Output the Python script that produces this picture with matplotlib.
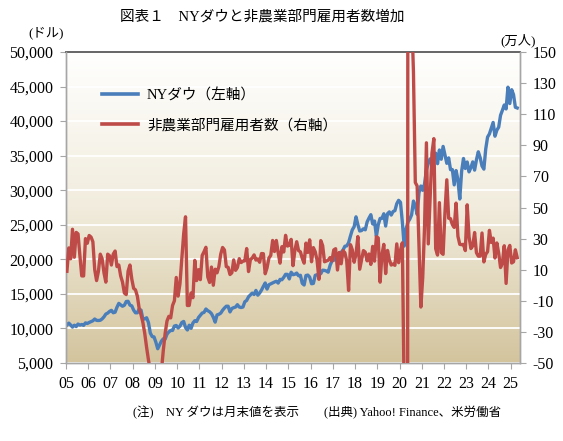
import numpy as np
import matplotlib
matplotlib.use("Agg")
import matplotlib.pyplot as plt
from matplotlib.lines import Line2D

# month-end Dow close, Jan 2005 - Apr 2025 (dollars)
dow = [
    10490, 10766, 10504, 10193, 10467, 10275, 10641, 10482, 10569, 10440, 10806, 10718,
    10865, 10993, 11109, 11367, 11168, 11150, 11186, 11381, 11679, 12081, 12222, 12463,
    12622, 12269, 12354, 13063, 13628, 13409, 13212, 13358, 13896, 13930, 13372, 13265,
    12650, 12266, 12263, 12820, 12638, 11350, 11378, 11544, 10851, 9325, 8829, 8776,
    8001, 7063, 7609, 8168, 8500, 8447, 9172, 9496, 9712, 9713, 10345, 10428,
    10067, 10325, 10857, 11009, 10137, 9774, 10466, 10015, 10788, 11118, 11006, 11578,
    11892, 12226, 12320, 12811, 12570, 12414, 12143, 11614, 10913, 11955, 12046, 12218,
    12633, 12952, 13212, 13214, 12393, 12880, 13009, 13091, 13437, 13096, 13026, 13104,
    13861, 14054, 14579, 14840, 15116, 14910, 15500, 14810, 15130, 15546, 16086, 16577,
    15699, 16322, 16458, 16581, 16717, 16827, 16563, 17098, 17043, 17391, 17828, 17823,
    17165, 18133, 17776, 17841, 18011, 17620, 17690, 16528, 16285, 17664, 17720, 17425,
    16466, 16517, 17685, 17774, 17787, 17930, 18432, 18401, 18308, 18142, 19124, 19763,
    19864, 20812, 20663, 20941, 21009, 21350, 21891, 21948, 22405, 23377, 24272, 24719,
    26149, 25029, 24103, 24163, 24416, 24271, 25415, 25965, 26458, 25116, 25538, 23327,
    24999, 25916, 25929, 26593, 24815, 26600, 26864, 26403, 26917, 27046, 28051, 28538,
    28256, 25409, 21917, 24346, 25383, 25813, 26428, 28430, 27782, 26502, 29639, 30606,
    29983, 30932, 32982, 33875, 34529, 34503, 34935, 35361, 33844, 35820, 34484, 36338,
    35132, 33893, 34678, 32977, 32990, 30775, 32845, 31510, 28726, 32733, 34590, 33147,
    34086, 32657, 33274, 34098, 32908, 34408, 35560, 34722, 33508, 33053, 35951, 37690,
    38150, 38996, 39807, 37816, 38686, 39119, 40843, 41563, 42330, 41763, 44911, 42544,
    44545, 43841, 42002, 41900,
]

# nonfarm payroll change, same months (10k persons)
nfp = [
    9, 24, 17, 36, 18, 34, 33, 19, 6, 6, 30, 27,
    32, 31, 28, 10, 3, 9, 20, 17, 8, 2, 20, 19,
    13, 20, 22, 12, 13, 6, 2, -5, -6, 9, 13, 4,
    -2, -3, -7, -15, -19, -24, -31, -40, -48, -55, -70, -65,
    -75, -70, -80, -55, -42, -31, -23, -20, -21, -13, -10, 5,
    -7, 1, 17, 33, 44, -13, -13, -5, -8, 16, 3, 10,
    3.6, 19.2, 21.6, 24.4, 5.4, 1.8, 11.7, 0, 10.3, 8, 12, 20,
    24.3, 22.7, 12, 11.5, 6.9, 8, 16.3, 9.6, 11.4, 17.1, 14.6, 15.5,
    15.7, 23.6, 8.8, 16.5, 17.5, 19.5, 16.2, 16.9, 14.8, 20.4, 20.3, 7.4,
    11.3, 17.5, 19.2, 28.8, 21.7, 28.8, 20.9, 14.2, 24.8, 21.4, 32.1, 25.2,
    25.7, 29.5, 12.6, 22.3, 28, 22.3, 21.5, 17.3, 14.2, 27.1, 21.1, 29.2,
    15.1, 24.2, 21.5, 16, 3.8, 28.7, 25.5, 15.1, 15.6, 16.1, 17.8, 15.6,
    22.7, 23.5, 9.8, 21.1, 13.8, 22.2, 20.9, 15.6, -3.3, 26.1, 22.8, 14.8,
    20, 31.3, 10.3, 16.4, 22.3, 21.3, 15.7, 20.1, 13.4, 25, 15.5, 31.2,
    30.4, 2, 19.6, 26.3, 7.5, 22.4, 16.4, 13, 13.6, 12.8, 26.6, 14.5,
    22.5, 27.3, -70.1, -2050, 250.9, 480, 176.3, 137.1, 66.1, 63.8, 24.5, -14,
    4.9, 37.9, 91.6, 26.6, 55.9, 85, 94.3, 23.5, 19.4, 53.1, 21, 19.9,
    46.7, 67.8, 43.1, 42.8, 39, 37.2, 52.8, 31.5, 26.3, 26.1, 26.3, 22.3,
    51.7, 31.1, 23.6, 25.3, 33.9, 20.9, 18.7, 18.7, 33.6, 15, 19.9, 21.6,
    35.3, 27.5, 30.3, 17.5, 27.2, 20.6, 11.4, 14.2, 25.4, 1.2, 22.7, 25.6,
    14.3, 15.1, 22.8, 17.7,
]

year_labels = ["%02d" % y for y in range(5, 26)]
left_ticks = list(range(5000, 50001, 5000))
right_ticks = list(range(-50, 151, 20))

title = "図表１　NYダウと非農業部門雇用者数増加"
leg_labels = ["NYダウ（左軸）", "非農業部門雇用者数（右軸）"]
note = "(注)　NY ダウは月末値を表示　　(出典) Yahoo! Finance、米労働省"

blue = "#4A7EBB"
red = "#BE4B48"
jp = ["Liberation Serif", "Noto Sans CJK JP"]

W, H = 563, 441
fig = plt.figure(figsize=(W / 100, H / 100), dpi=100)
rect = [66 / W, 1 - 363 / H, (520 - 66) / W, (363 - 52) / H]

# gradient background of the plot area
bg = fig.add_axes(rect, zorder=0)
t = np.linspace(0, 1, 256)
stops = [0, 0.5, 1]
cols = np.array([[255, 255, 254], [241, 236, 221], [211, 196, 157]]) / 255
grad = np.stack([np.interp(t, stops, cols[:, k]) for k in range(3)], axis=-1)[:, None, :]
bg.imshow(grad, aspect="auto", extent=[0, 1, 0, 1])
bg.axis("off")

ax = fig.add_axes(rect, zorder=1)
ax.patch.set_alpha(0)
x = np.arange(len(dow))
ax.plot(x, dow, color=blue, lw=2.4, solid_joinstyle="round", zorder=3)
ax.set_xlim(-0.5, 244.5)
ax.set_ylim(5000, 50000)
ax.set_yticks(left_ticks)
ax.set_yticklabels(["{:,}".format(v) for v in left_ticks], family=jp, fontsize=11.5)
ax.yaxis.grid(True, color="white", lw=1.3)
ax.set_axisbelow(True)
ax.set_xticks([12 * k - 0.5 for k in range(len(year_labels))])
ax.set_xticklabels(year_labels, family=jp, fontsize=11.5)
ax.tick_params(axis="both", length=4, color="#A6A6A6", pad=5)

ax2 = ax.twinx()
ax2.plot(x, nfp, color=red, lw=2.4, solid_joinstyle="round", zorder=3)
ax2.set_ylim(-50, 150)
ax2.set_yticks(right_ticks)
ax2.set_yticklabels([str(v) for v in right_ticks], family=jp, fontsize=11.5)
ax2.tick_params(axis="y", length=4, color="#A6A6A6", pad=5)

for a in (ax, ax2):
    for s in a.spines.values():
        s.set_color("#A6A6A6")
        s.set_linewidth(1.0)
ax.spines["top"].set_color("#595959")
ax.spines["top"].set_linewidth(1.3)
ax2.spines["top"].set_visible(False)

handles = [Line2D([], [], color=blue, lw=2.6), Line2D([], [], color=red, lw=2.6)]
ax2.legend(handles, leg_labels, loc="upper left", bbox_to_anchor=(0.05, 0.925),
           frameon=False, handlelength=2.5, handletextpad=0.6, labelspacing=1.1,
           prop={"family": jp, "size": 10.5})

fig.text(262 / W, 1 - 17 / H, title, ha="center", va="center", family=jp, fontsize=10.5)
fig.text(28 / W, 1 - 33 / H, "(ドル)", ha="left", va="center", family=jp, fontsize=9.5)
fig.text(500 / W, 1 - 40 / H, "(万人)", ha="left", va="center", family=jp, fontsize=9.5)
fig.text(133 / W, 1 - 413 / H, note, ha="left", va="center", family=jp, fontsize=9)

fig.savefig("out.png", dpi=100)
